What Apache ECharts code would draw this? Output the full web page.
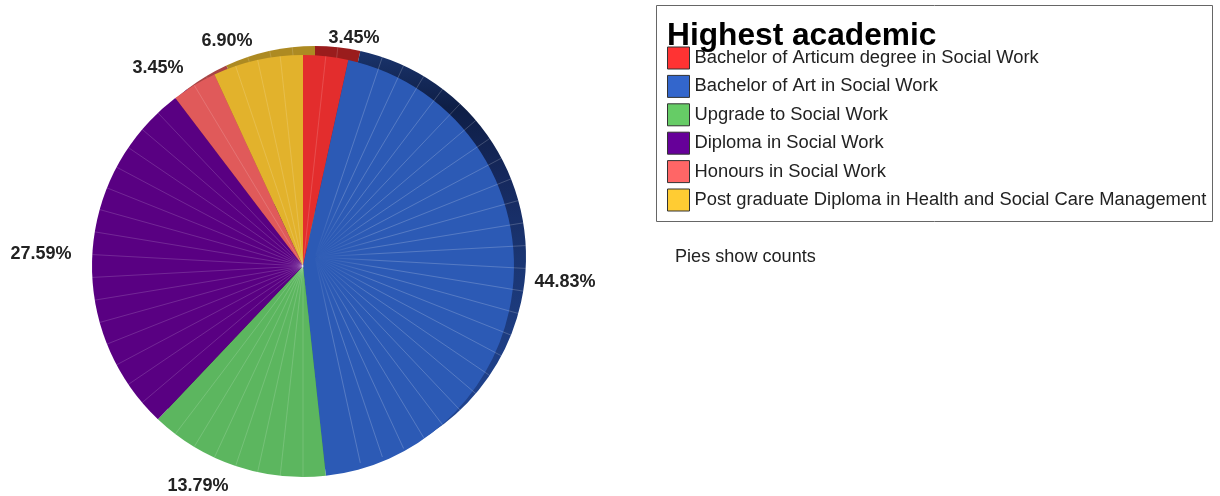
<!DOCTYPE html>
<html>
<head>
<meta charset="utf-8">
<style>
  html, body { margin: 0; padding: 0; background: #fff; }
  #chart { width: 1220px; height: 496px; }
</style>
</head>
<body>
<div id="chart"></div>
<script src="https://cdn.jsdelivr.net/npm/echarts@6/dist/echarts.min.js"></script>
<script>
const categories = [
  'Bachelor of Articum degree in Social Work',
  'Bachelor of Art in Social Work',
  'Upgrade to Social Work',
  'Diploma in Social Work',
  'Honours in Social Work',
  'Post graduate Diploma in Health and Social Care Management'
]
const counts = [1, 13, 4, 8, 1, 2]
const legendColors = ['#ff3333', '#3366cc', '#66cc66', '#660099', '#ff6666', '#ffcc33']
const faceColors = ['#e32d2d', '#2c5ab5', '#5cb65f', '#590082', '#e05a5a', '#e2b22c']
const rimColors = ['#9a1c1c', '#16295e', '#3f8a44', '#3d0059', '#a84444', '#ad8a22']

const total = counts.reduce((a, b) => a + b, 0)
const font = 'Liberation Sans'
const faceCenter = [303, 266]
const rimCenter = [315, 257]
const pieRadius = 211
// label positions, clockwise from the red slice
const labelSpots = [[354, 38], [565, 282], [198, 486], [41, 254], [158, 68], [227, 41]]

// the original pie is built from wedges, two for each count
const blueRays = []
const otherRays = []
let run = 0
counts.forEach((c, i) => {
  for (let k = 1; k < c * 2; k++) {
    (i === 1 ? blueRays : otherRays).push([run + k / 2])
  }
  run += c
})

function rayAxis(index) {
  return {
    angle: { polarIndex: index, type: 'value', min: 0, max: total, startAngle: 90, show: false },
    radius: { polarIndex: index, type: 'value', min: 0, max: 1, show: false }
  }
}
const rayAxes = [rayAxis(0), rayAxis(1), rayAxis(2)]

function rayItem(color, fade) {
  return function (params, api) {
    const a = api.value(0)
    const from = api.coord([0, a])
    const to = api.coord([1, a])
    let stroke = color
    if (fade) {
      // blue rays only show up some way out from their hub
      stroke = new echarts.graphic.LinearGradient(from[0], from[1], to[0], to[1], [
        { offset: 0, color: 'rgba(255,255,255,0)' },
        { offset: 0.06, color: 'rgba(255,255,255,0.05)' },
        { offset: 0.3, color: color },
        { offset: 1, color: color }
      ], true)
    }
    return {
      type: 'line',
      shape: { x1: from[0], y1: from[1], x2: to[0], y2: to[1] },
      style: { stroke, lineWidth: 0.7 }
    }
  }
}

const chart = echarts.init(document.getElementById('chart'))
chart.setOption({
  animation: false,
  title: {
    text: 'Highest academic',
    left: 667,
    top: 20,
    padding: 0,
    textStyle: { fontFamily: font, fontSize: 31.7, fontWeight: 'bold', color: '#000' }
  },
  legend: {
    orient: 'vertical',
    left: 667,
    top: 46.5,
    padding: 0,
    itemWidth: 22,
    itemHeight: 22,
    itemGap: 5.4,
    selectedMode: false,
    icon: 'rect',
    textStyle: { fontFamily: font, fontSize: 18.35, color: '#222' },
    data: categories.map((name, i) => ({
      name,
      itemStyle: { color: legendColors[i], borderColor: '#333', borderWidth: 1 }
    }))
  },
  graphic: [
    {
      type: 'rect',
      silent: true,
      z: -1,
      shape: { x: 656.5, y: 5.5, width: 556, height: 216 },
      style: { fill: '#fff', stroke: '#666', lineWidth: 1 }
    },
    {
      type: 'text',
      x: 675,
      y: 248,
      style: { text: 'Pies show counts', fontFamily: font, fontSize: 18.1, fill: '#222' }
    }
  ],
  polar: [
    { center: rimCenter, radius: pieRadius },
    { center: faceCenter, radius: pieRadius },
    { center: rimCenter, radius: pieRadius }
  ],
  angleAxis: rayAxes.map((a) => a.angle),
  radiusAxis: rayAxes.map((a) => a.radius),
  series: [
    {
      // side wall, sits behind the face
      type: 'pie',
      z: 1,
      silent: true,
      center: rimCenter,
      radius: pieRadius,
      startAngle: 90,
      label: { show: false },
      data: counts.map((v, i) => ({
        name: categories[i],
        value: v,
        itemStyle: {
          color: i !== 1 ? rimColors[i] : new echarts.graphic.LinearGradient(0, 46, 0, 430, [
            { offset: 0, color: '#1b3670' },
            { offset: 0.16, color: '#0e1e46' },
            { offset: 0.35, color: rimColors[1] },
            { offset: 0.55, color: '#1a3572' },
            { offset: 1, color: '#214592' }
          ], true)
        }
      }))
    },
    {
      type: 'custom',
      coordinateSystem: 'polar',
      polarIndex: 0,
      z: 2,
      silent: true,
      renderItem: rayItem('rgba(255,255,255,0.22)'),
      data: otherRays
    },
    {
      type: 'pie',
      z: 3,
      silent: true,
      center: faceCenter,
      radius: pieRadius,
      startAngle: 90,
      avoidLabelOverlap: false,
      labelLine: { show: false },
      label: {
        show: true,
        fontFamily: font,
        fontSize: 18,
        fontWeight: 'bold',
        color: '#222',
        formatter: (p) => (p.value / total * 100).toFixed(2) + '%'
      },
      labelLayout: (p) => ({
        x: labelSpots[p.dataIndex][0],
        y: labelSpots[p.dataIndex][1],
        align: 'center',
        verticalAlign: 'middle'
      }),
      data: counts.map((v, i) => ({
        name: categories[i],
        value: v,
        itemStyle: { color: faceColors[i] }
      }))
    },
    {
      type: 'custom',
      coordinateSystem: 'polar',
      polarIndex: 1,
      z: 4,
      silent: true,
      renderItem: rayItem('rgba(255,255,255,0.22)'),
      data: otherRays
    },
    {
      type: 'custom',
      coordinateSystem: 'polar',
      polarIndex: 2,
      z: 4,
      silent: true,
      renderItem: rayItem('rgba(255,255,255,0.28)', true),
      data: blueRays
    }
  ]
})
</script>
</body>
</html>
